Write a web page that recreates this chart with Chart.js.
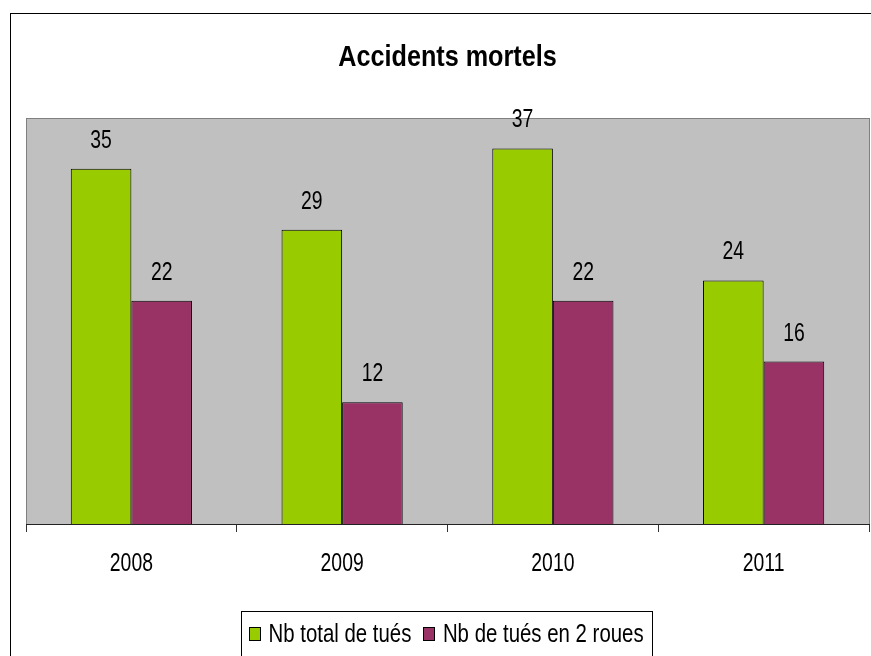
<!DOCTYPE html>
<html><head><meta charset="utf-8">
<script src="https://cdn.jsdelivr.net/npm/chart.js@4/dist/chart.umd.min.js"></script>
<style>html,body{margin:0;padding:0;background:#fff}canvas{display:block}</style>
</head><body>
<canvas id="c" width="871" height="656"></canvas>
<script>
const categories = ['2008', '2009', '2010', '2011'];
const totalTues = [35, 29, 37, 24];
const tues2Roues = [22, 12, 22, 16];
const seriesNames = ['Nb total de tués', 'Nb de tués en 2 roues'];
const chartTitle = 'Accidents mortels';
const FONT = '"Liberation Sans", Arial, sans-serif';

// draw horizontally condensed text (the original uses a narrow face)
function condText(ctx, text, x, y, sx, align) {
  ctx.save();
  ctx.translate(x, y);
  ctx.scale(sx, 1);
  ctx.textAlign = align || 'center';
  ctx.textBaseline = 'alphabetic';
  ctx.fillText(text, 0, 0);
  ctx.restore();
}

const framePlugin = {
  id: 'frame',
  beforeDraw(chart) {
    const ctx = chart.ctx, a = chart.chartArea;
    ctx.save();
    ctx.fillStyle = '#fff';
    ctx.fillRect(0, 0, chart.width, chart.height);
    ctx.strokeStyle = '#000';
    ctx.lineWidth = 1;
    ctx.strokeRect(10.5, 13.5, 1000, 1000);
    ctx.fillStyle = '#c0c0c0';
    ctx.fillRect(a.left, a.top, a.right - a.left, a.bottom - a.top);
    ctx.strokeStyle = '#808080';
    ctx.strokeRect(Math.round(a.left) + 0.5, Math.round(a.top) + 0.5, Math.round(a.right - a.left), Math.round(a.bottom - a.top));
    ctx.restore();
  },
  afterDraw(chart) {
    const ctx = chart.ctx, a = chart.chartArea;
    const cx = (a.left + a.right) / 2;
    ctx.save();
    ctx.fillStyle = '#000';
    // title
    ctx.font = 'bold 30px ' + FONT;
    condText(ctx, chartTitle, cx, 66, 0.84, 'center');
    // category labels
    ctx.font = '25.5px ' + FONT;
    const xs = chart.scales.x;
    categories.forEach((c, i) => condText(ctx, c, xs.getPixelForValue(i), 571, 0.76, 'center'));
    // legend
    const sx = 0.8, pad = 8, sq = 11, gapT = 8.5, gapI = 12;
    const colors = chart.data.datasets.map(d => d.backgroundColor);
    const widths = seriesNames.map(n => ctx.measureText(n).width * sx);
    let total = pad * 2;
    widths.forEach((w, i) => { total += sq + gapT + w + (i ? gapI : 0); });
    let x = Math.round(cx - 1.5 - total / 2);
    const boxLeft = x;
    ctx.strokeStyle = '#000';
    ctx.lineWidth = 1;
    ctx.strokeRect(boxLeft + 0.5, 611.5, Math.round(total), 200);
    x += pad;
    seriesNames.forEach((n, i) => {
      if (i) x += gapI;
      ctx.fillStyle = colors[i];
      ctx.fillRect(Math.round(x) + 0.5, 627.5, sq, 13);
      ctx.strokeStyle = '#000';
      ctx.strokeRect(Math.round(x) + 0.5, 627.5, sq, 13);
      x += sq + gapT;
      ctx.fillStyle = '#000';
      condText(ctx, n, x, 641.5, sx, 'left');
      x += widths[i];
    });
    ctx.restore();
  }
};

const labelPlugin = {
  id: 'vlabels',
  afterDatasetsDraw(chart) {
    const ctx = chart.ctx;
    ctx.save();
    ctx.font = '25.5px ' + FONT;
    ctx.fillStyle = '#000';
    chart.data.datasets.forEach((ds, i) => {
      chart.getDatasetMeta(i).data.forEach((bar, j) => {
        condText(ctx, String(ds.data[j]), bar.x, bar.y - 21, 0.76, 'center');
      });
    });
    ctx.restore();
  }
};

new Chart(document.getElementById('c'), {
  type: 'bar',
  data: {
    labels: categories,
    datasets: [
      { label: seriesNames[0], data: totalTues, backgroundColor: '#99cc00', borderColor: '#000', borderWidth: 1 },
      { label: seriesNames[1], data: tues2Roues, backgroundColor: '#993366', borderColor: '#000', borderWidth: 1 }
    ]
  },
  options: {
    responsive: false,
    animation: false,
    layout: { padding: { left: 26, right: 2, top: 118, bottom: 124 } },
    datasets: { bar: { barPercentage: 1, categoryPercentage: 0.575 } },
    scales: {
      x: {
        grid: { display: true, drawOnChartArea: false, offset: true, color: '#333', tickLength: 8 },
        border: { display: true, color: '#222' },
        ticks: { display: false }
      },
      y: { display: false, min: 0, max: 40 }
    },
    plugins: {
      title: { display: false },
      legend: { display: false },
      tooltip: { enabled: false }
    }
  },
  plugins: [framePlugin, labelPlugin]
});
</script>
</body></html>
